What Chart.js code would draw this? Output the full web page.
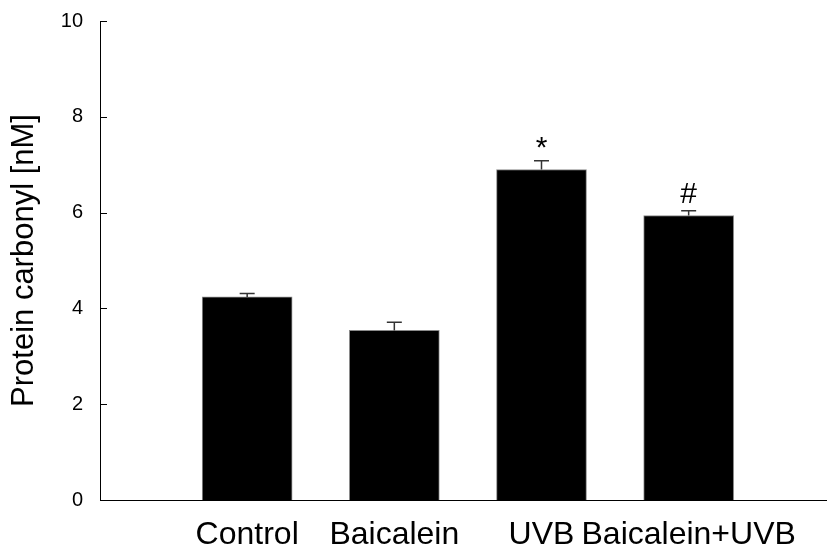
<!DOCTYPE html>
<html lang="en">
<head>
    <meta charset="UTF-8">
    <title>Protein carbonyl</title>
    <script src="https://cdn.jsdelivr.net/npm/chart.js"></script>
    <style>
        html, body { margin: 0; padding: 0; background: #fff; }
        #wrap { width: 827px; height: 550px; }
    </style>
</head>
<body>
    <div id="wrap"><canvas id="carbonylChart"></canvas></div>

    <script>
        // Data
        const groups = ['Control', 'Baicalein', 'UVB', 'Baicalein+UVB'];
        const positions = [1, 2, 3, 4];
        const means = [4.24, 3.54, 6.90, 5.94];
        const errors = [0.07, 0.17, 0.18, 0.10];
        const marks = ['', '', '*', '#'];
        const yTicks = [0, 2, 4, 6, 8, 10];

        const font = 'Arial, "Liberation Sans", sans-serif';

        // upper error bars + significance marks
        const errorBars = {
            id: 'errorBars',
            afterDatasetsDraw(chart) {
                const ctx = chart.ctx;
                const xs = chart.scales.x, ys = chart.scales.y;
                ctx.save();
                ctx.strokeStyle = '#333';
                ctx.lineWidth = 1.5;
                means.forEach((m, i) => {
                    const x = xs.getPixelForValue(positions[i]);
                    const y0 = ys.getPixelForValue(m);
                    const y1 = ys.getPixelForValue(m + errors[i]);
                    ctx.beginPath();
                    ctx.moveTo(x, y0);
                    ctx.lineTo(x, y1);
                    ctx.moveTo(x - 7.5, y1);
                    ctx.lineTo(x + 7.5, y1);
                    ctx.stroke();
                    if (marks[i]) {
                        ctx.fillStyle = '#000';
                        ctx.font = '30px ' + font;
                        ctx.textAlign = 'center';
                        ctx.textBaseline = 'alphabetic';
                        ctx.fillText(marks[i], x, y1 - (marks[i] === '*' ? 4 : 8));
                    }
                });
                // inward tick marks on the y axis
                ctx.strokeStyle = '#000';
                ctx.lineWidth = 1;
                yTicks.forEach(v => {
                    const y = Math.round(ys.getPixelForValue(v)) + 0.5;
                    ctx.beginPath();
                    ctx.moveTo(xs.left, y);
                    ctx.lineTo(xs.left + 7, y);
                    ctx.stroke();
                });
                ctx.restore();
            }
        };

        new Chart(document.getElementById('carbonylChart'), {
            type: 'bar',
            data: {
                datasets: [{
                    data: positions.map((p, i) => ({ x: p, y: means[i] })),
                    backgroundColor: '#000',
                    borderColor: '#8a8a8a',
                    borderWidth: 1,
                    barThickness: 90
                }]
            },
            options: {
                responsive: true,
                maintainAspectRatio: false,
                animation: false,
                layout: { padding: { top: 20, right: 0, left: 0, bottom: 0 } },
                plugins: {
                    legend: { display: false },
                    tooltip: { enabled: false }
                },
                scales: {
                    x: {
                        type: 'linear',
                        offset: false,
                        min: 0,
                        max: 4.94,
                        grid: { display: false },
                        border: { display: true, color: '#000', width: 1 },
                        afterBuildTicks: axis => { axis.ticks = positions.map(v => ({ value: v })); },
                        afterFit: axis => { axis.height = 50; },
                        ticks: {
                            padding: 8,
                            color: '#000',
                            font: { family: font, size: 32 },
                            maxRotation: 0,
                            autoSkip: false,
                            callback: v => groups[positions.indexOf(v)] || ''
                        }
                    },
                    y: {
                        min: 0,
                        max: 10,
                        grid: { display: false },
                        border: { display: true, color: '#000', width: 1 },
                        afterBuildTicks: axis => { axis.ticks = yTicks.map(v => ({ value: v })); },
                        afterFit: axis => { axis.width = 100; },
                        ticks: {
                            padding: 9,
                            color: '#000',
                            font: { family: font, size: 20 }
                        },
                        title: {
                            display: true,
                            text: 'Protein carbonyl [nM]',
                            color: '#000',
                            font: { family: font, size: 31 },
                            padding: { top: 6, bottom: 0 }
                        }
                    }
                }
            },
            plugins: [errorBars]
        });
    </script>
</body>
</html>
